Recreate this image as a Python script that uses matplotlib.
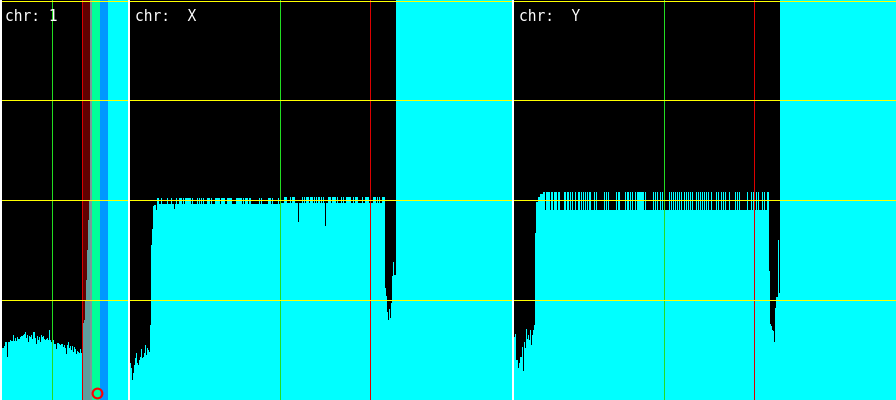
import numpy as np
import matplotlib.pyplot as plt

# coverage, one value per bin (0 = bottom, 400 = top)
chr1_head = [52, 52, 54, 58, 58, 43, 58, 58, 60, 59, 59, 65, 59, 62, 59, 63, 61, 61, 63, 64,
             64, 65, 66, 68, 62, 65, 58, 64, 63, 65, 61, 68, 68, 62, 56, 64, 60, 63, 58, 65,
             63, 64, 61, 60, 61, 62, 60, 70, 60, 58, 63, 60, 56, 56, 51, 57, 57, 56, 55, 56,
             56, 53, 55, 52, 46, 55, 58, 52, 54, 50, 54, 48, 53, 51, 46, 49, 48, 47, 51, 47,
             56, 77, 80, 100, 120, 150, 180, 200, 215, 220]
chr1_bins = 126

chrX_head = [37, 32, 20, 27, 35, 42, 47, 37, 35, 40, 43, 51, 42, 43, 47, 55, 45, 52, 50, 48,
             75, 155, 171, 194, 195, 195, 190]
chrX_level = [(27, 150, 196), (150, 255, 197)]
chrX_spikes = [27, 28, 31, 37, 41, 46, 49, 50, 51, 53, 55, 56, 57, 58, 59, 60, 62, 67, 69, 71,
               73, 77, 78, 79, 81, 85, 86, 87, 88, 89, 91, 92, 93, 94, 97, 98, 99, 100, 101,
               106, 107, 108, 109, 110, 111, 113, 115, 116, 117, 119, 120, 129, 131, 138, 139,
               140, 142, 148, 154, 155, 156, 160, 162, 163, 164, 172, 174, 176, 177, 178, 180,
               181, 182, 184, 186, 188, 189, 191, 193, 198, 199, 200, 202, 203, 204, 205, 207,
               211, 213, 216, 217, 218, 219, 220, 223, 225, 226, 227, 232, 235, 236, 237, 238,
               240, 243, 244, 245, 247, 249, 252, 253, 254]
chrX_dips = {44: 191, 150: 180, 168: 178, 195: 174}
chrX_tail = [112, 104, 88, 80, 91, 82, 97, 124, 138, 125, 125]

chrY_head = [63, 66, 40, 40, 32, 37, 43, 43, 53, 29, 58, 52, 71, 61, 65, 60, 70, 55, 65, 70,
             75, 167, 198, 198, 203, 203, 206, 206, 206]
chrY_level = [(29, 255, 208)]
chrY_gaps = [31, 36, 39, 43, 46, 47, 48, 49, 52, 55, 57, 59, 60, 62, 63, 66, 68, 70, 72, 74,
             77, 78, 79, 81, 83, 84, 85, 86, 87, 88, 89, 91, 93, 95, 96, 97, 98, 99, 100, 101,
             103, 106, 107, 108, 109, 110, 112, 115, 117, 119, 120, 122, 130, 132, 133, 134,
             135, 136, 137, 138, 140, 142, 144, 145, 147, 149, 151, 152, 153, 154, 156, 158,
             160, 162, 164, 166, 168, 169, 171, 173, 175, 177, 179, 180, 181, 183, 185, 187,
             189, 191, 193, 195, 196, 198, 199, 200, 201, 203, 205, 206, 208, 210, 212, 213,
             214, 216, 217, 218, 219, 220, 222, 224, 226, 227, 228, 229, 230, 231, 232, 234,
             235, 236, 238, 241, 243, 245, 246, 247, 249, 251, 252]
chrY_tail = [129, 76, 74, 70, 69, 58, 92, 103, 103, 160, 107]
chrXY_bins = 382

labels = ["chr: 1", "chr:  X", "chr:  Y"]
green_pos = [49, 149, 149]
red_pos = [79, 239, 239]
grid_y = [0.5, 100, 200, 300, 399.5]

# coloured regions on chr 1: (start, end, colour, alpha)
chr1_bands = [(81, 88, "red", 0.38), (88, 90, "#7a9a9a", 1.0),
              (90, 98, "#00ff00", 0.4), (98, 106, "blue", 0.4)]
chr1_marker = (94.5, 7.5)


def build(head, levels, n, tail, up=None, up_val=None, down=None, down_val=None, dips=None):
    cov = np.full(n, 400.0)
    cov[:len(head)] = head
    for a, b, v in levels:
        cov[a:b] = v
    if up is not None:
        for i in up:
            cov[i] = up_val[1] if i >= 150 else up_val[0]
    if down is not None:
        cov[down] = down_val
    if dips:
        for i, v in dips.items():
            cov[i] = v
    start = levels[-1][1]
    cov[start:start + len(tail)] = tail
    return cov


cov1 = np.full(chr1_bins, 400.0)
cov1[:len(chr1_head)] = chr1_head
covX = build(chrX_head, chrX_level, chrXY_bins, chrX_tail, up=chrX_spikes, up_val=(202, 203),
             dips=chrX_dips)
covY = build(chrY_head, chrY_level, chrXY_bins, chrY_tail, down=chrY_gaps, down_val=190)

fig = plt.figure(figsize=(8.96, 4), dpi=100, facecolor="white")
W = 896
boxes = [(2, 126), (130, 382), (514, 382)]
px = 0.72  # one pixel in points

for k, (cov, (x0, w)) in enumerate(zip([cov1, covX, covY], boxes)):
    ax = fig.add_axes([x0 / W, 0, w / W, 1])
    ax.set_facecolor("black")
    ax.stairs(cov, np.arange(len(cov) + 1), fill=True, color="#00ffff",
              linewidth=0, antialiased=False, zorder=2)
    if k == 0:
        for a, b, c, al in chr1_bands:
            ax.axvspan(a, b, color=c, alpha=al, linewidth=0, zorder=3)
        ax.plot(*chr1_marker, "o", ms=7, mfc="none", mec="#ff0000", mew=1.5, zorder=6)
    ax.axvline(green_pos[k] + 0.5, color="#22dd22", lw=px, zorder=4, antialiased=False)
    ax.axvline(red_pos[k] + 0.5, color="#dd0000", lw=px, zorder=4, antialiased=False)
    for y in grid_y:
        ax.axhline(y, color="#ffff00", lw=px, zorder=5, antialiased=False)
    ax.text(3 if k == 0 else 5, 391, labels[k], color="white", fontsize=10.5,
            family="DejaVu Sans Mono", va="top", ha="left", zorder=7)
    ax.set_xlim(0, len(cov))
    ax.set_ylim(0, 400)
    ax.set_xticks([])
    ax.set_yticks([])
    for s in ax.spines.values():
        s.set_visible(False)

fig.savefig("out.png", dpi=100, facecolor="white")
